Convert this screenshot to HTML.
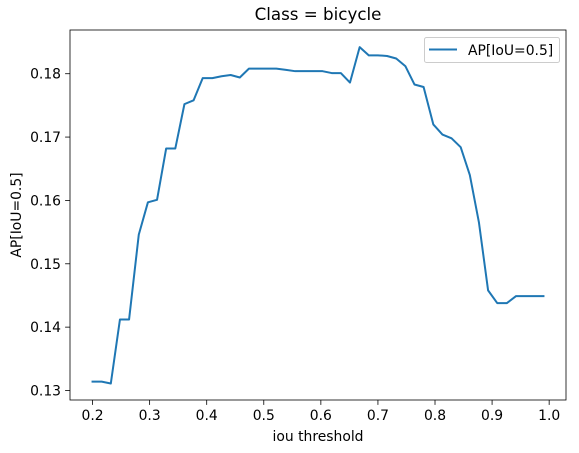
<!DOCTYPE html>
<html><head><meta charset="utf-8"><style>
body{margin:0;background:#fff;}
svg{display:block;font-family:"DejaVu Sans","Liberation Sans",sans-serif;}
</style></head><body>
<svg id="chart" width="579" height="453"></svg>
<script>
const xValues=[0.2,0.216,0.232,0.248,0.264,0.281,0.297,0.313,0.329,0.345,0.361,0.377,0.393,0.41,0.426,0.442,0.458,0.474,0.49,0.506,0.522,0.539,0.555,0.571,0.587,0.603,0.619,0.635,0.651,0.668,0.684,0.7,0.716,0.732,0.748,0.764,0.78,0.797,0.813,0.829,0.845,0.861,0.877,0.893,0.909,0.926,0.942,0.958,0.974,0.99];
const apValues=[0.1314,0.1314,0.1311,0.1412,0.1412,0.1546,0.1597,0.1601,0.1682,0.1682,0.1752,0.1758,0.1793,0.1793,0.1796,0.1798,0.1794,0.1808,0.1808,0.1808,0.1808,0.1806,0.1804,0.1804,0.1804,0.1804,0.1801,0.1801,0.1786,0.1842,0.1829,0.1829,0.1828,0.1824,0.1812,0.1783,0.1779,0.1720,0.1704,0.1698,0.1684,0.1640,0.1565,0.1458,0.1438,0.1438,0.1449,0.1449,0.1449,0.1449];
const xTicks=[0.2,0.3,0.4,0.5,0.6,0.7,0.8,0.9,1.0];
const xTickLabels=["0.2","0.3","0.4","0.5","0.6","0.7","0.8","0.9","1.0"];
const yTicks=[0.13,0.14,0.15,0.16,0.17,0.18];
const yTickLabels=["0.13","0.14","0.15","0.16","0.17","0.18"];

const L=70,R=566,T=30,B=400;
const xMin=0.1605,xMax=1.0295,yMin=0.1285,yMax=0.1869;
const sx=v=>L+(v-xMin)/(xMax-xMin)*(R-L);
const sy=v=>B-(v-yMin)/(yMax-yMin)*(B-T);
const svg=document.getElementById('chart');
const NS='http://www.w3.org/2000/svg';
function mk(tag,attrs,parent){const e=document.createElementNS(NS,tag);for(const k in attrs)e.setAttribute(k,attrs[k]);(parent||svg).appendChild(e);return e;}

const xg=mk('g',{});


xTicks.forEach((v,i)=>{
  const x=sx(v);
  const t=mk('line',{x1:x,x2:x,y1:B,y2:B+4.9,stroke:'#000','stroke-width':0.8},xg);
  
  
  const tx=mk('text',{x:x,y:B+20,'text-anchor':'middle','font-size':13.9,fill:'#000'},xg);
  
  
  tx.textContent=xTickLabels[i];
});
const yg=mk('g',{});


yTicks.forEach((v,i)=>{
  const y=sy(v);
  const t=mk('line',{x1:L-4.9,x2:L,y1:y,y2:y,stroke:'#000','stroke-width':0.8},yg);
  
  
  const tx=mk('text',{x:L-9,y:y+5,'text-anchor':'end','font-size':13.9,fill:'#000'},yg);
  
  
  tx.textContent=yTickLabels[i];
});

const pts=xValues.map((x,i)=>sx(x).toFixed(2)+','+sy(apValues[i]).toFixed(2)).join(' ');
const line=mk('polyline',{points:pts,fill:'none',stroke:'#1f77b4','stroke-width':2,'stroke-linejoin':'round','stroke-linecap':'square'});



const frame=mk('rect',{x:L,y:T,width:R-L,height:B-T,fill:'none',stroke:'#000','stroke-width':0.8});



const title=mk('text',{x:(L+R)/2,y:20,'text-anchor':'middle','font-size':16.7,fill:'#000'});


title.textContent='Class = bicycle';

const xl=mk('text',{x:(L+R)/2,y:441,'text-anchor':'middle','font-size':13.9,fill:'#000'});


xl.textContent='iou threshold';

const yl=mk('text',{x:0,y:0,'text-anchor':'middle','font-size':13.9,fill:'#000',transform:'translate(21,'+((T+B)/2)+') rotate(-90)'});


yl.textContent='AP[IoU=0.5]';

const lg=mk('g',{});


mk('rect',{x:424.5,y:37.5,width:135,height:25,rx:2,fill:'#fff',stroke:'#ccc','stroke-width':1},lg);
const ll=mk('line',{x1:429,x2:457,y1:49.5,y2:49.5,stroke:'#1f77b4','stroke-width':2},lg);


const lt=mk('text',{x:468,y:55,'font-size':13.9,fill:'#000'},lg);


lt.textContent='AP[IoU=0.5]';
</script>
</body></html>
